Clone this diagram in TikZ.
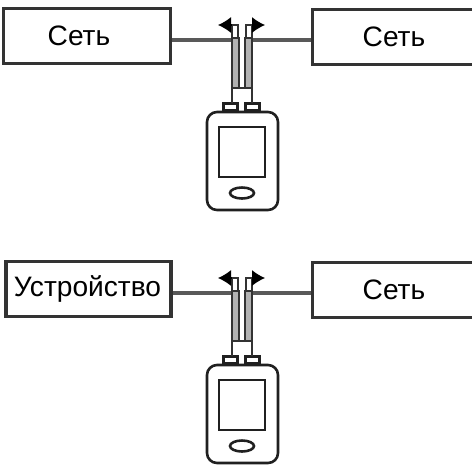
\documentclass[tikz,border=0pt]{standalone}
\usepackage{fontspec}
\setmainfont{Liberation Sans}
\usetikzlibrary{arrows.meta}
\tikzset{
  boxnode/.style={draw=gray!40!black, line width=2.6pt, fill=white, minimum height=1.65cm, inner sep=0pt, font=\fontsize{24}{26}\selectfont},
  linkline/.style={draw=gray!70!black, line width=2.6pt},
  tubeline/.style={draw=gray!40!black, line width=1.8pt},
  casepart/.style={draw=gray!25!black, line width=2.2pt, fill=white},
  tipline/.style={-{Latex[length=3.9mm, width=4.8mm]}, black, line width=1pt}
}
\begin{document}
\begin{tikzpicture}[x=0.03cm, y=-0.03cm]
  \useasboundingbox (0,0) rectangle (472,464);
  % upper and lower scheme
  \foreach \oy/\name/\lx/\lw/\ltext/\lsh in {0/a/87/5.0cm/Сеть/-0.48cm, 253/b/88.5/4.95cm/Устройство/-0.06cm} {
    \begin{scope}[yshift={-0.03cm*\oy}]
      \node[boxnode, minimum width=\lw] (left\name) at (\lx,36) {\hspace*{\lsh}\ltext};
      \node[boxnode, minimum width=5.0cm] (right\name) at (396,37) {\hspace*{-0.12cm}Сеть};
      \coordinate (hookl\name) at (232,40);
      \coordinate (hookr\name) at (253,40);
      \coordinate (tipl\name) at (218,25);
      \coordinate (tipr\name) at (265,25);
      \draw[linkline] (left\name.east |- hookl\name) -- (hookl\name);
      \draw[linkline] (hookr\name) -- (right\name.west |- hookr\name);
      % plugs
      \node[casepart, minimum width=0.42cm, minimum height=0.22cm, inner sep=0pt] (portl\name) at (230.5,107) {};
      \node[casepart, minimum width=0.42cm, minimum height=0.22cm, inner sep=0pt] (portr\name) at (252.5,107) {};
      % cords
      \draw[tubeline, fill=gray!60] (232,103) -- (232,38) -- (239,38) -- (239,88) -- (232,88);
      \draw[tubeline, fill=gray!60] (252,103) -- (252,38) -- (245,38) -- (245,88) -- (252,88);
      \draw[tubeline] (239,88) -- (245,88);
      \draw[tubeline, fill=white] (232,25) rectangle (238,38);
      \draw[tubeline, fill=white] (246,25) rectangle (252,38);
      \draw[tipline] (232,25) -- (tipl\name);
      \draw[tipline] (252,25) -- (tipr\name);
      % tester
      \draw[casepart, rounded corners=0.3cm] (207,112) rectangle (278,210);
      \draw[casepart] (219,127) rectangle (265,177);
      \draw[casepart] (242,193) ellipse (12 and 5.5);
    \end{scope}
  }
\end{tikzpicture}
\end{document}
